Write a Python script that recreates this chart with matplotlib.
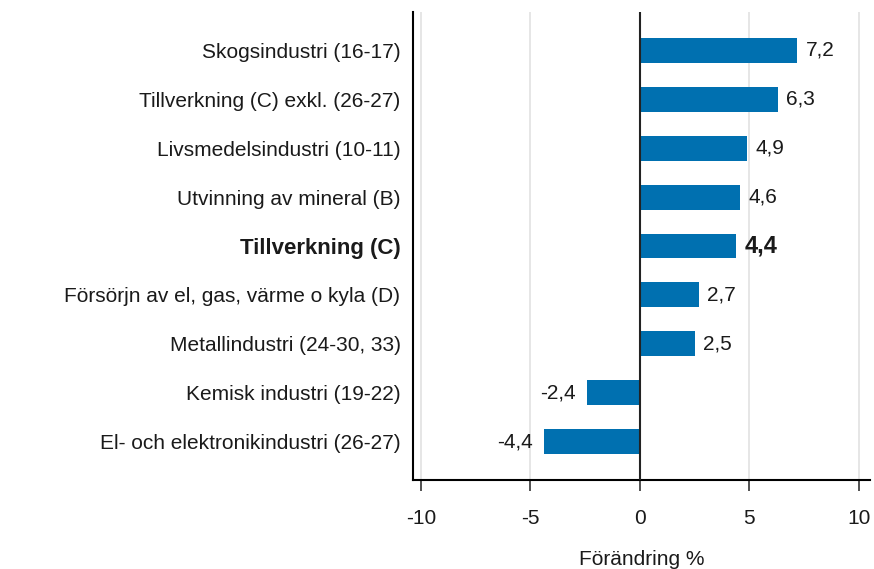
import matplotlib
matplotlib.use("Agg")
import matplotlib.pyplot as plt

categories = [
    "Skogsindustri (16-17)",
    "Tillverkning (C) exkl. (26-27)",
    "Livsmedelsindustri (10-11)",
    "Utvinning av mineral (B)",
    "Tillverkning (C)",
    "Försörjn av el, gas, värme o kyla (D)",
    "Metallindustri (24-30, 33)",
    "Kemisk industri (19-22)",
    "El- och elektronikindustri (26-27)",
]
values = [7.2, 6.3, 4.9, 4.6, 4.4, 2.7, 2.5, -2.4, -4.4]
bold_category = "Tillverkning (C)"
xticks = [-10, -5, 0, 5, 10]
xlabel = "Förändring %"

plt.rcParams['font.family'] = ['Liberation Sans', 'DejaVu Sans']
FS = 15
FS_BOLD = 16
TXT = '#1a1a1a'

fig = plt.figure(figsize=(8.74, 5.69), dpi=100)
ax = fig.add_axes([413/874, (569-480)/569, (870-413)/874, (480-12)/569])

ypos = list(range(len(categories)))
ax.barh(ypos, values, height=0.51, color='#0070b0', zorder=3)

ax.set_xlim(-10.37, 10.52)
ax.set_ylim(len(categories) - 0.22, -0.78)

for y, v, c in zip(ypos, values, categories):
    is_bold = c == bold_category
    weight = 'bold' if is_bold else 'normal'
    size = FS_BOLD + 1 if is_bold else FS
    txt = f"{v:.1f}".replace('.', ',')
    if v >= 0:
        ax.annotate(txt, (v, y), xytext=(6, 0), textcoords='offset points',
                    ha='left', va='center', fontsize=size, fontweight=weight,
                    color=TXT, zorder=4)
    else:
        ax.annotate(txt, (v, y), xytext=(-8, 0), textcoords='offset points',
                    ha='right', va='center', fontsize=size, fontweight=weight,
                    color=TXT, zorder=4)

ax.set_yticks(ypos)
ax.set_yticklabels(categories, fontsize=FS, color=TXT)
for lbl in ax.get_yticklabels():
    if lbl.get_text() == bold_category:
        lbl.set_fontweight('bold')
        lbl.set_fontsize(FS_BOLD)
ax.tick_params(axis='y', length=0, pad=9)

ax.set_xticks(xticks)
ax.set_xticklabels([str(t) for t in xticks], fontsize=FS, color=TXT)
ax.tick_params(axis='x', length=8, width=1.2, color='#333333', pad=13)

for t in xticks:
    if t != 0:
        ax.axvline(t, color='#e2e2e2', linewidth=1.2, zorder=1)
ax.axvline(0, color='#222222', linewidth=1.5, zorder=5)

ax.spines['top'].set_visible(False)
ax.spines['right'].set_visible(False)
ax.spines['left'].set_linewidth(1.5)
ax.spines['bottom'].set_linewidth(1.5)

ax.set_xlabel(xlabel, fontsize=FS, labelpad=16, color=TXT)

fig.savefig("out.png", dpi=100)
